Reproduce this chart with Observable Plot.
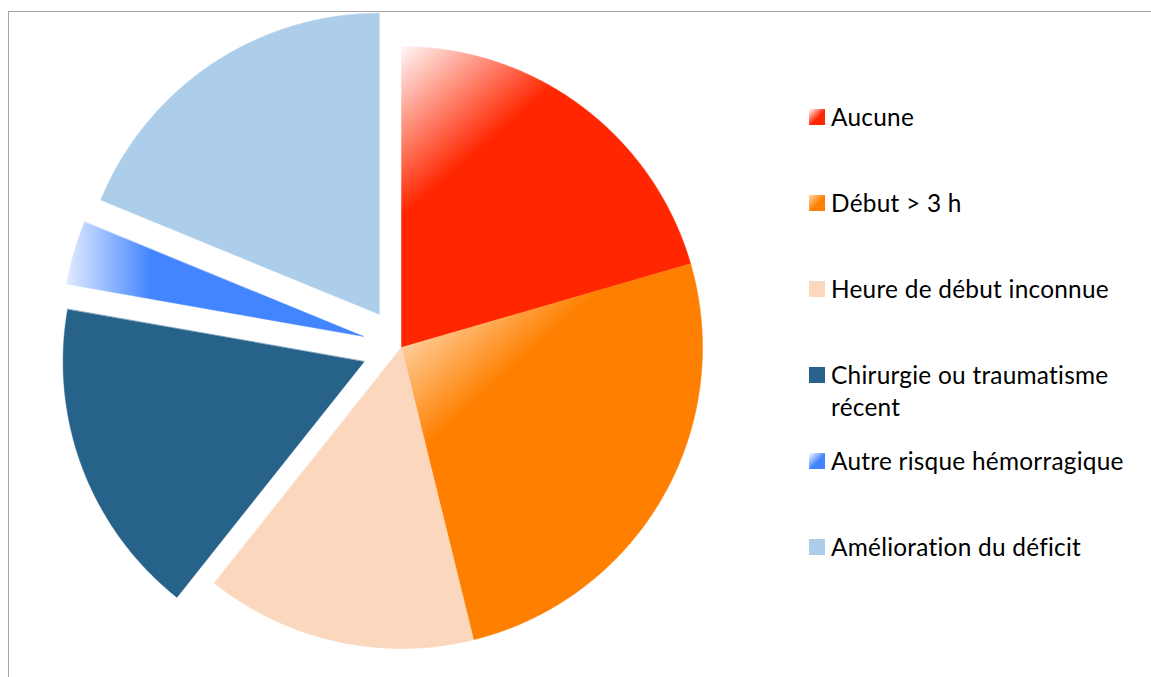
<!DOCTYPE html>
<html>
<head>
<meta charset="utf-8">
<script src="https://cdn.jsdelivr.net/npm/d3@7"></script>
<script src="https://cdn.jsdelivr.net/npm/@observablehq/plot@0.6"></script>
<style>
  html, body { margin: 0; padding: 0; background: #fff; }
  #wrap { position: relative; width: 1151px; height: 677px; overflow: hidden; font-family: Lato, "Open Sans", sans-serif; }
  #frame { position: absolute; left: 8px; top: 11px; width: 1400px; height: 900px; border-left: 1px solid #a6a6a6; border-top: 1px solid #a6a6a6; box-sizing: border-box; }
  #chart { position: absolute; left: 0; top: 0; }
  .sw { position: absolute; width: 16px; height: 16px; left: 809px; }
  .lab { position: absolute; left: 831px; width: 310px; font-size: 24.4px; letter-spacing: 0.25px; line-height: 32px; color: #000; }
</style>
</head>
<body>
<div id="wrap">
  <div id="frame"></div>
  <div id="chart"></div>
</div>
<script>
// ---- data ----
const categories = ["Aucune", "Début > 3 h", "Heure de début inconnue", "Chirurgie ou traumatisme récent", "Autre risque hémorragique", "Amélioration du déficit"];
const counts = [24, 30, 17, 20, 4, 22];

// ---- styles ----
const baseColors = ["#FF2600", "#FF8000", "#FAD7BD", "#27628B", "#4285FF", "#ACCEEA"];
const explode = [0, 0, 0, 40, 40, 40];
const W = 1151, H = 677, cx = 401, cy = 347, R = 301;

const pie = d3.pie().sort(null).value(d => d)(counts);
const slices = pie.map((p, i) => {
  const mid = (p.startAngle + p.endAngle) / 2;
  const ox = cx + explode[i] * Math.sin(mid), oy = cy - explode[i] * Math.cos(mid);
  const pts = [{x: ox, y: oy}];
  const n = Math.max(4, Math.ceil((p.endAngle - p.startAngle) / (Math.PI / 360)));
  for (let k = 0; k <= n; k++) {
    const a = p.startAngle + (p.endAngle - p.startAngle) * k / n;
    pts.push({x: ox + R * Math.sin(a), y: oy - R * Math.cos(a)});
  }
  return {i, pts, ox, oy};
});

const fills = ["url(#gA)", "url(#gD)", baseColors[2], baseColors[3], "url(#gO)", baseColors[5]];

function defsMark(index, scales) {
  const defs = d3.create("svg:defs");
  const lin = (id, x1, y1, x2, y2, c0, c1) => {
    const g = defs.append("linearGradient").attr("id", id).attr("gradientUnits", "userSpaceOnUse")
      .attr("x1", scales.x(x1)).attr("y1", scales.y(y1)).attr("x2", scales.x(x2)).attr("y2", scales.y(y2));
    g.append("stop").attr("offset", 0).attr("stop-color", c0);
    g.append("stop").attr("offset", 1).attr("stop-color", c1);
  };
  const a = slices[0];
  lin("gA", a.pts[1].x - 3, a.pts[1].y - 4, a.pts[1].x + 85, a.pts[1].y + 98, "#ffffff", baseColors[0]);
  const d = slices[1];
  lin("gD", d.ox - 40, d.oy - 44, d.ox + 60, d.oy + 67, "#ffffff", baseColors[1]);
  const o = slices[4];
  lin("gO", o.ox - 313, o.oy, o.ox - 212, o.oy, "#ffffff", baseColors[4]);
  return defs.node();
}

const chart = Plot.plot({
  width: W, height: H, margin: 0,
  style: {background: "transparent", overflow: "visible"},
  x: {domain: [0, W], range: [0, W], axis: null},
  y: {domain: [0, H], range: [0, H], axis: null},
  marks: [
    defsMark,
    ...slices.map(s => Plot.line(s.pts, {x: "x", y: "y", curve: "linear-closed", fill: fills[s.i], stroke: fills[s.i], strokeWidth: 0.5}))
  ]
});
document.getElementById("chart").appendChild(chart);

// ---- legend ----
const swatchBg = [
  "linear-gradient(135deg, #ffffff 0%, #FF2600 55%)",
  "linear-gradient(135deg, #ffd9b3 0%, #FF8000 55%)",
  baseColors[2],
  baseColors[3],
  "linear-gradient(135deg, #ffffff 0%, #4285FF 55%)",
  baseColors[5]
];
const wrap = document.getElementById("wrap");
categories.forEach((c, i) => {
  const sw = document.createElement("div");
  sw.className = "sw";
  sw.style.top = (109 + 86 * i) + "px";
  sw.style.background = swatchBg[i];
  wrap.appendChild(sw);
  const lab = document.createElement("div");
  lab.className = "lab";
  lab.style.top = (101 + 86 * i) + "px";
  lab.textContent = c;
  wrap.appendChild(lab);
});
</script>
</body>
</html>
